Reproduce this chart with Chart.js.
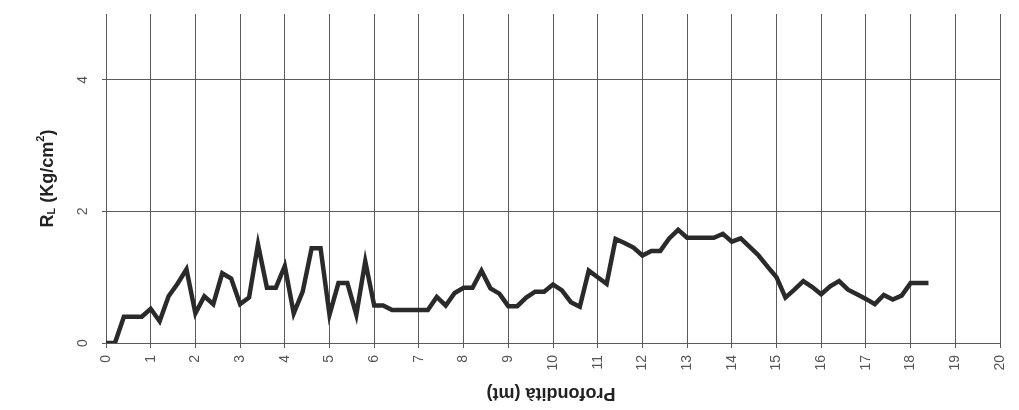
<!DOCTYPE html>
<html>
<head>
<meta charset="utf-8">
<script src="https://cdn.jsdelivr.net/npm/chart.js@4.4.1/dist/chart.umd.min.js"></script>
<style>
  html, body { margin: 0; padding: 0; background: #ffffff; }
  #c { display: block; }
</style>
</head>
<body>
<canvas id="c" width="1019" height="410"></canvas>
<script>
// Depth (m) of each reading
const depths = [0.0, 0.2, 0.4, 0.6, 0.8, 1.0, 1.2, 1.4, 1.6, 1.8,
  2.0, 2.2, 2.4, 2.6, 2.8, 3.0, 3.2, 3.4, 3.6, 3.8,
  4.0, 4.2, 4.4, 4.6, 4.8, 5.0, 5.2, 5.4, 5.6, 5.8,
  6.0, 6.2, 6.4, 6.6, 6.8, 7.0, 7.2, 7.4, 7.6, 7.8,
  8.0, 8.2, 8.4, 8.6, 8.8, 9.0, 9.2, 9.4, 9.6, 9.8,
  10.0, 10.2, 10.4, 10.6, 10.8, 11.0, 11.2, 11.4, 11.6, 11.8,
  12.0, 12.2, 12.4, 12.6, 12.8, 13.0, 13.2, 13.4, 13.6, 13.8,
  14.0, 14.2, 14.4, 14.6, 14.8, 15.0, 15.2, 15.4, 15.6, 15.8,
  16.0, 16.2, 16.4, 16.6, 16.8, 17.0, 17.2, 17.4, 17.6, 17.8,
  18.0, 18.2, 18.4];
// Lateral resistance R_L (Kg/cm2)
const resistance = [0.0, 0.0, 0.4, 0.4, 0.4, 0.52, 0.33, 0.71, 0.9, 1.12,
  0.45, 0.71, 0.59, 1.06, 0.98, 0.59, 0.69, 1.5, 0.84, 0.84,
  1.17, 0.45, 0.78, 1.44, 1.44, 0.43, 0.91, 0.91, 0.43, 1.24,
  0.57, 0.57, 0.5, 0.5, 0.5, 0.5, 0.5, 0.7, 0.57, 0.76,
  0.84, 0.84, 1.1, 0.83, 0.75, 0.56, 0.56, 0.69, 0.78, 0.78,
  0.89, 0.8, 0.62, 0.55, 1.1, 1.0, 0.9, 1.58, 1.52, 1.45,
  1.33, 1.4, 1.4, 1.59, 1.72, 1.6, 1.6, 1.6, 1.6, 1.66,
  1.54, 1.59, 1.46, 1.33, 1.16, 1.0, 0.69, 0.81, 0.94, 0.85,
  0.74, 0.86, 0.94, 0.81, 0.74, 0.67, 0.59, 0.73, 0.66, 0.72,
  0.91, 0.91, 0.91];
const xTickValues = [0, 1, 2, 3, 4, 5, 6, 7, 8, 9, 10, 11, 12, 13, 14, 15, 16, 17, 18, 19, 20];
const yTickValues = [0, 2, 4];
const xTitle = 'Profondità (mt)';
const yTitleParts = ['R', 'L', ' (Kg/cm', '2', ')'];

const points = depths.map((d, i) => ({ x: d, y: resistance[i] }));

const titlePlugin = {
  id: 'titles',
  afterDraw(chart) {
    const ctx = chart.ctx;
    const ca = chart.chartArea;
    // X title, upside down
    ctx.save();
    ctx.fillStyle = '#222';
    ctx.font = 'bold 18px "Liberation Sans", Arial, sans-serif';
    ctx.textAlign = 'center';
    ctx.textBaseline = 'middle';
    ctx.translate((ca.left + ca.right) / 2 - 2, 393);
    ctx.rotate(Math.PI);
    ctx.fillText(xTitle, 0, 0);
    ctx.restore();

    // Y title, rotated, with subscript and superscript
    ctx.save();
    ctx.fillStyle = '#222';
    const big = 'bold 18px "Liberation Sans", Arial, sans-serif';
    const small = 'bold 11px "Liberation Sans", Arial, sans-serif';
    const fonts = [big, small, big, small, big];
    const offs = [0, 4, 0, -7, 0];
    let total = 0;
    const widths = yTitleParts.map((t, i) => { ctx.font = fonts[i]; const w = ctx.measureText(t).width; total += w; return w; });
    ctx.translate(48, (ca.top + ca.bottom) / 2);
    ctx.rotate(-Math.PI / 2);
    ctx.textAlign = 'left';
    ctx.textBaseline = 'middle';
    let x = -total / 2;
    yTitleParts.forEach((t, i) => {
      ctx.font = fonts[i];
      ctx.fillText(t, x, offs[i]);
      x += widths[i];
    });
    ctx.restore();
  }
};

new Chart(document.getElementById('c'), {
  type: 'line',
  data: {
    datasets: [{
      data: points,
      borderColor: '#2a2a2a',
      borderWidth: 4.5,
      pointRadius: 0,
      tension: 0,
      fill: false,
      borderJoinStyle: 'miter'
    }]
  },
  options: {
    responsive: false,
    animation: false,
    layout: { padding: { left: 0, right: 19, top: 14, bottom: 0 } },
    plugins: { legend: { display: false }, tooltip: { enabled: false } },
    scales: {
      x: {
        type: 'linear',
        min: 0,
        max: 20,
        afterBuildTicks(axis) { axis.ticks = xTickValues.map(v => ({ value: v })); },
        afterFit(axis) { axis.height = 67; axis.paddingLeft = 0; axis.paddingRight = 0; },
        grid: { color: '#5a5a5a', lineWidth: 1, tickLength: 5, drawTicks: true },
        border: { color: '#5a5a5a', width: 1 },
        ticks: {
          minRotation: 90,
          maxRotation: 90,
          padding: 7,
          color: '#555',
          font: { family: '"Liberation Sans", Arial, sans-serif', size: 14 },
          callback: v => String(v)
        }
      },
      y: {
        type: 'linear',
        min: 0,
        max: 5,
        afterBuildTicks(axis) { axis.ticks = yTickValues.map(v => ({ value: v })); },
        afterFit(axis) { axis.width = 106; axis.paddingTop = 0; axis.paddingBottom = 0; },
        grid: { color: '#5a5a5a', lineWidth: 1, tickLength: 4 },
        border: { color: '#5a5a5a', width: 1 },
        ticks: {
          minRotation: 90,
          maxRotation: 90,
          crossAlign: 'center',
          padding: 15,
          color: '#555',
          font: { family: '"Liberation Sans", Arial, sans-serif', size: 14 },
          callback: v => String(v)
        }
      }
    }
  },
  plugins: [titlePlugin]
});
</script>
</body>
</html>
